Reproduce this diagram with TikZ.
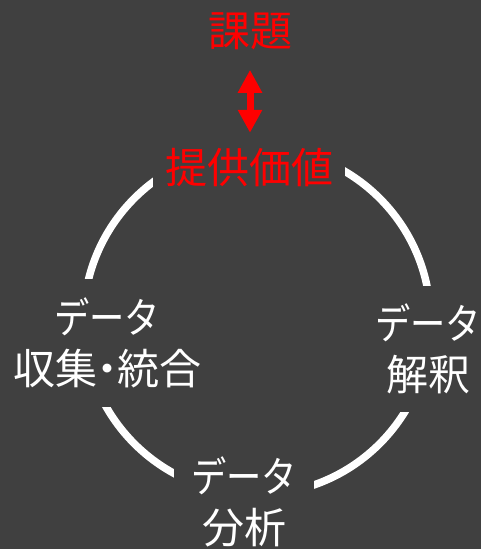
\documentclass[tikz,border=0pt]{standalone}
\usepackage{fontspec}
\newfontfamily\jp{Noto Sans CJK JP}
\usetikzlibrary{arrows.meta}
\definecolor{bg}{HTML}{404040}
\definecolor{ared}{HTML}{FF0000}
\newcommand\datakana{\scalebox{0.84}[1]{データ}}
\newcommand\nakaguro{\kern-11pt・\kern-11pt}
\begin{document}
\begin{tikzpicture}[x=1pt,y=-1pt,
  lbl/.style={font=\jp\fontsize{42}{51}\selectfont, text=white, align=center, fill=bg, inner sep=0pt},
  ring/.style={draw=white, line width=7.5pt},
  dbl/.style={draw=ared, line width=7pt, {Triangle[width=23pt,length=23pt]}-{Triangle[width=23pt,length=23pt]}}]
\fill[bg] (0,0) rectangle (481,549);
\useasboundingbox (0,0) rectangle (481,549);
\draw[ring] (257,321) circle[radius=173.5pt];
\node[lbl, text=ared, fill=none] (ka) at (250,31) {課題};
\node[lbl, text=ared, minimum width=192pt, minimum height=56pt] (tk) at (249,168) {提供価値};
\node[lbl, minimum width=214pt, minimum height=128pt] (sh) at (107,343) {\datakana\\収集\nakaguro 統合};
\node[lbl, minimum width=110pt, minimum height=126pt] (ks) at (428,349) {\datakana\\解釈};
\node[lbl, minimum width=140pt, minimum height=90pt] (bn) at (244,502) {\datakana\\分析};
\draw[dbl, shorten <=20pt, shorten >=7pt] (ka.south) -- (ka.south |- tk.north);
\end{tikzpicture}
\end{document}
